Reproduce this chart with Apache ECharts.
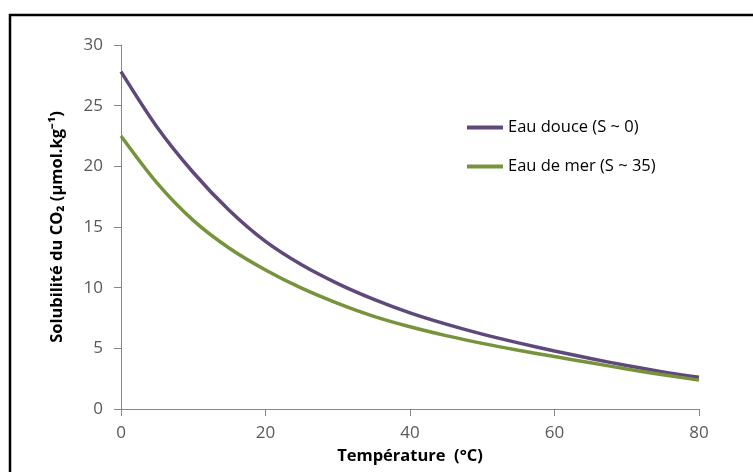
<!DOCTYPE html>
<html>
<head>
<meta charset="utf-8">
<script src="https://cdn.jsdelivr.net/npm/echarts@6/dist/echarts.min.js"></script>
<style>html,body{margin:0;padding:0;background:#fff}#c{width:753px;height:472px}</style>
</head>
<body>
<div id="c"></div>
<script>
const temperatures = [0,5,10,15,20,25,30,35,40,45,50,55,60,65,70,75,80];
const eauDouce = [27.8,23.22,19.49,16.36,13.81,11.88,10.33,9.03,7.92,6.99,6.17,5.45,4.78,4.16,3.58,3.06,2.61];
const eauDeMer = [22.5,18.62,15.55,13.25,11.46,9.96,8.71,7.64,6.78,6.05,5.41,4.84,4.32,3.81,3.30,2.82,2.38];
const seriesNames = ['Eau douce (S ~ 0)','Eau de mer (S ~ 35)'];
const xTitle = 'Température  (°C)';
const yTitle = 'Solubilité du CO₂ (µmol.kg⁻¹)';

const font = '"Open Sans", "Liberation Sans", sans-serif';
const chart = echarts.init(document.getElementById('c'));
const pair = (a) => temperatures.map((t,i)=>[t,a[i]]);
chart.setOption({
  animation:false,
  graphic:[{type:'rect',shape:{x:10,y:15,width:800,height:500},style:{fill:'none',stroke:'#000',lineWidth:2.5},silent:true}],
  grid:{left:121,right:54,top:45,bottom:63},
  legend:{
    orient:'vertical',left:462,top:114,itemGap:22,itemWidth:36,itemHeight:4,
    icon:'rect',
    textStyle:{fontFamily:font,fontSize:16.5,color:'#000'},
    data:seriesNames
  },
  xAxis:{
    type:'value',min:0,max:80,interval:20,
    name:xTitle,nameLocation:'middle',nameGap:39,
    nameTextStyle:{fontFamily:font,fontSize:16.5,fontWeight:'bold',color:'#000'},
    axisLine:{lineStyle:{color:'#868686',width:1}},
    axisTick:{show:true,length:7,lineStyle:{color:'#868686'}},
    axisLabel:{fontFamily:font,fontSize:17,color:'#595959',margin:16},
    splitLine:{show:false}
  },
  yAxis:{
    type:'value',min:0,max:30,interval:5,
    name:yTitle,nameLocation:'middle',nameGap:55,
    nameTextStyle:{fontFamily:font,fontSize:16.5,fontWeight:'bold',color:'#000'},
    axisLine:{show:true,lineStyle:{color:'#868686',width:1}},
    axisTick:{show:true,length:7,lineStyle:{color:'#868686'}},
    axisLabel:{fontFamily:font,fontSize:17,color:'#595959',margin:18},
    splitLine:{show:false}
  },
  series:[
    {name:seriesNames[0],type:'line',smooth:0.3,symbol:'none',data:pair(eauDouce),
     lineStyle:{color:'#5F497A',width:3.5},itemStyle:{color:'#5F497A'}},
    {name:seriesNames[1],type:'line',smooth:0.3,symbol:'none',data:pair(eauDeMer),
     lineStyle:{color:'#77933C',width:3.5},itemStyle:{color:'#77933C'}}
  ]
});
</script>
</body>
</html>
